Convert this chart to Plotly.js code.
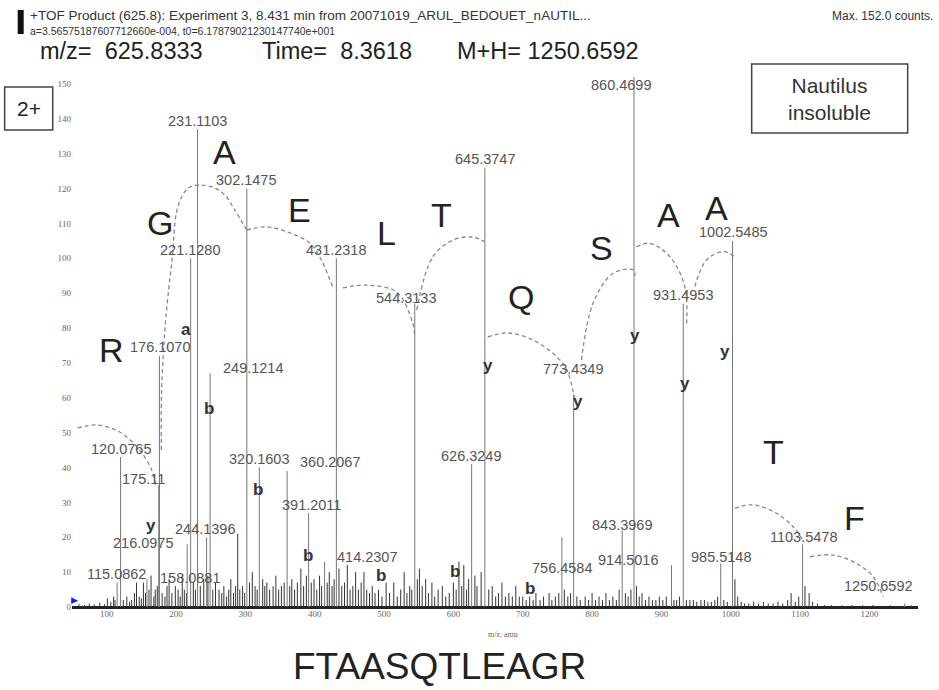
<!DOCTYPE html>
<html>
<head>
<meta charset="utf-8">
<script src="https://cdn.plot.ly/plotly-3.0.1.min.js"></script>
<style>html,body{margin:0;padding:0;background:#fff;}#chart{width:939px;height:690px;}</style>
</head>
<body>
<div id="chart"></div>
<script>
// ---- labelled fragment peaks (m/z, counts) ----
const peakMz = [115.0862,120.0765,158.0881,175.11,176.107,216.0975,221.128,231.1103,244.1396,249.1214,302.1475,320.1603,360.2067,391.2011,414.2307,431.2318,544.3133,626.3249,645.3747,756.4584,773.4349,843.3969,860.4699,914.5016,931.4953,985.5148,1002.5485,1103.5478,1250.6592];
const peakH  = [7,43,8,35,72,18,100,137,20,67,120,40,39,27,13,100,87,41,126,20,61,22,152,12,87,12.5,105,18,1];
const peakText = ["115.0862","120.0765","158.0881","175.11","176.1070","216.0975","221.1280","231.1103","244.1396","249.1214","302.1475","320.1603","360.2067","391.2011","414.2307","431.2318","544.3133","626.3249","645.3747","756.4584","773.4349","843.3969","860.4699","914.5016","931.4953","985.5148","1002.5485","1103.5478","1250.6592"];
// where each number label sits (m/z, counts)
const labelMz = [114.4,120.3,219.7,153.5,176.6,153.1,219.7,230.5,242.5,311,301.5,319.3,421.6,395,475.7,431.3,532.3,626,645.2,757,772.6,843.6,841.4,851.9,931.3,986.6,1004.4,1104.4,1213.5];
const labelCnt = [9.4,45.3,8.4,36.7,74.6,18.4,102.4,139.4,22.4,68.5,122.5,42.4,41.6,29.3,14.4,102.4,88.5,43.3,128.4,11.1,68.2,23.5,149.7,13.5,89.5,14.2,107.5,20.2,6];

// ---- unlabelled small peaks (m/z, counts) ----
const noiseMz = [60,68,75,82,90,97,101,106,110,112,124,129,133,136,140,143,147,150,153,156,161,164,168,170,173,180,184,187,190,194,199,203,206,209,212,215,225,228,235,240,246,253,257,262,266,269,273,276,279,283,286,289,292,296,299,306,310,314,317,325,328,331,335,340,344,348,352,356,364,367,371,375,380,384,388,395,399,403,407,410,418,421,425,428,435,439,443,447,451,455,459,463,467,471,475,479,483,487,492,497,503,508,514,519,524,529,533,537,540,548,551,555,560,564,569,573,578,584,589,594,600,604,608,612,615,619,622,631,634,640,651,656,661,665,670,675,680,685,690,695,700,705,710,715,719,725,730,738,742,747,752,760,765,769,778,783,790,795,800,805,810,815,820,825,830,835,839,848,852,856,864,868,872,877,882,887,892,897,902,907,918,922,926,936,941,946,951,957,962,967,972,977,981,990,995,1006,1010,1015,1020,1026,1033,1040,1047,1054,1061,1068,1075,1082,1087,1093,1098,1107,1113,1118,1125,1135,1145,1160,1175,1190,1205,1230,1260];
const noiseH  = [0.8,0.6,1,0.7,1.2,0.8,2.5,1.5,3,2,2,3,1.5,2,4,7,3,2.5,7,4,5,9,3,5,6,4,3,6,8,4,6,5,3,9,5,4,7,5,6,8,9,5,7,5,4,6,3,5,8,4,6,21,5,6,4,7,10,6,5,8,6,7,5,6,9,5,6,7,6,8,5,7,11,6,9,7,8,5,9,6,7,10,6,8,11,6,7,12,5,6,10,5,7,10,5,4,6,4,5,3,7,4,7,3,5,10,4,6,5,8,11,6,8,4,7,3,5,6,3,4,7,5,13,6,12,5,8,9,6,10,5,6,3,4,7,3,4,3,6,3,3,2,3,2,4,2,3,4,2,3,4,5,3,4,3,2,3,2,4,2,3,2,4,2,3,2,5,4,3,5,6,3,4,2,3,2,2,3,2,3,2,2,3,2,2,2,1.5,2,2,1.5,1.5,2,3,2,1.5,8,3,1.5,1,1,1.5,1,1.5,1,1,1.5,1,2,4,1.5,3,6,4,1.5,1,0.6,0.6,0.5,0.6,0.5,0.6,0.5,0.5];

// ---- ion type letters ----
const ionText = ["a","b","b","y","b","b","b","b","y","y","y","y","y"];
const ionMz   = [214,247.6,318.2,164.4,390.4,496.2,602,710.1,650,779.8,861.6,933.7,991.4];
const ionCnt  = [79.5,57,33.6,23.5,14.9,9,10.1,5.4,69.4,58.9,78,64.2,73.2];

// ---- residue letters ----
const resText = ["R","G","A","E","L","T","Q","S","A","A","T","F"];
const resMz   = [106.7,176.4,270.2,378.4,503.4,582.7,698.1,813.5,909.6,979.4,1061,1178.9];
const resCnt  = [73.7,110,130.6,113.9,107.2,112.4,89,102.9,112.4,114.3,44.5,25.4];

// ---- dashed sequence arcs (m/z, counts) ----
const arcs = [
  {mz:[58.2,85.6,118.7,147.6,164.9,170.7], c:[51.3,52.2,50.2,45,39.3,35]},
  {mz:[178.9,178.9,181.2,185.1,190.9,194.8,200.5,209.6,219.7,234.1,252.9,270.2,284.6,301.9], c:[45,59.4,70.8,82.3,93.8,100.4,113,118.2,120.4,121,120.4,118.2,113.9,108.1]},
  {mz:[301.9,330.8,364,392.8,407.2,426], c:[108.1,109,107.3,104.4,100.4,91.8]},
  {mz:[440.4,475,518.3,541.4,544.2], c:[91.5,92.3,90.3,81.4,77.4]},
  {mz:[547.1,570.2,599,627.9,645.2], c:[85.2,100.4,105.2,106.1,104.7]},
  {mz:[649.6,677,714.5,749.2,763.6,775.1], c:[77.4,78.6,76.6,71.7,68,59.4]},
  {mz:[784.7,801.4,830.2,859.1,862], c:[70.8,87.1,95.7,96.7,95]},
  {mz:[864,883.2,912,933.7,936.1], c:[103.3,104.3,100.5,91.9,80.4]},
  {mz:[948.1,964.9,988.9,1005.8], c:[91.9,99.5,101.9,100.5]},
  {mz:[1005.8,1032.2,1065.9,1089.9,1104.3], c:[28.3,29.3,26.9,23,19.2]},
  {mz:[1114,1147.6,1181.3,1205.3,1219.7], c:[14.4,14.9,12.5,8.7,3]}
];

const xTicks = [100,200,300,400,500,600,700,800,900,1000,1100,1200];
const yTicks = [0,10,20,30,40,50,60,70,80,90,100,110,120,130,140,150];

function sticks(mz, h){
  const x=[], y=[];
  for(let i=0;i<mz.length;i++){ x.push(mz[i],mz[i],null); y.push(0,h[i],null); }
  return {x,y};
}
const n = sticks(noiseMz, noiseH);
const p = sticks(peakMz, peakH);

const traces = [
  {type:'scatter', mode:'lines', x:n.x, y:n.y, line:{color:'#333', width:1}, hoverinfo:'skip', showlegend:false},
  {type:'scatter', mode:'lines', x:p.x, y:p.y, line:{color:'#777', width:1}, hoverinfo:'skip', showlegend:false}
];
arcs.forEach(a => traces.push({type:'scatter', mode:'lines', x:a.mz, y:a.c, line:{color:'#888', width:1.3, dash:'4px,3px', shape:'spline'}, hoverinfo:'skip', showlegend:false}));

const SANS = 'Liberation Sans, Arial, sans-serif';
const ann = [];
peakText.forEach((t,i)=>ann.push({x:labelMz[i], y:labelCnt[i], xref:'x', yref:'y', xanchor:'center', yanchor:'middle', text:t, showarrow:false, font:{family:SANS, size:14.5, color:'#555'}}));
ionText.forEach((t,i)=>ann.push({x:ionMz[i], y:ionCnt[i], xref:'x', yref:'y', xanchor:'center', yanchor:'middle', text:'<b>'+t+'</b>', showarrow:false, font:{family:SANS, size:17, color:'#333'}}));
resText.forEach((t,i)=>ann.push({x:resMz[i], y:resCnt[i], xref:'x', yref:'y', xanchor:'center', yanchor:'middle', text:t, showarrow:false, font:{family:SANS, size:34, color:'#222'}}));

function paperText(x, y, text, font, xanchor){
  ann.push({x:x, y:y, xref:'paper', yref:'paper', xanchor:xanchor||'center', yanchor:'middle', showarrow:false, text:text, font:font});
}
// header and boxes (paper coordinates)
paperText(-0.0524, 1.1151, '+TOF Product (625.8): Experiment 3, 8.431 min from 20071019_ARUL_BEDOUET_nAUTIL...', {family:SANS, size:13.5, color:'#333'}, 'left');
paperText(-0.0524, 1.0868, 'a=3.56575187607712660e-004, t0=6.17879021230147740e+001', {family:SANS, size:10.5, color:'#333'}, 'left');
paperText(1.0198, 1.1151, 'Max. 152.0 counts.', {family:SANS, size:12, color:'#333'}, 'right');
paperText(-0.0406, 1.0491, 'm/z=  625.8333', {family:SANS, size:23.5, color:'#222'}, 'left');
paperText(0.2219, 1.0491, 'Time=  8.3618', {family:SANS, size:23.5, color:'#222'}, 'left');
paperText(0.4524, 1.0491, 'M+H= 1250.6592', {family:SANS, size:23.5, color:'#222'}, 'left');
paperText(-0.0512, 0.9406, '2+', {family:SANS, size:21, color:'#222'});
paperText(0.8957, 0.9594, 'Nautilus<br>insoluble', {family:SANS, size:21, color:'#333'});
paperText(0.509, -0.0528, 'm/z, amu', {family:'Liberation Serif, serif', size:8, color:'#666'});
paperText(0.4346, -0.1132, 'FTAASQTLEAGR', {family:SANS, size:37, color:'#222'});
paperText(0.0032, 0.0132, '▶', {family:'DejaVu Sans', size:9, color:'#1a1aff'});

const shapes = [
  {type:'rect', xref:'paper', yref:'paper', x0:-0.0642, x1:-0.0571, y0:1.0811, y1:1.1264, fillcolor:'#111', line:{width:0}},
  {type:'rect', xref:'paper', yref:'paper', x0:-0.0796, x1:-0.0228, y0:0.900, y1:0.9811, line:{color:'#444', width:1.5}},
  {type:'rect', xref:'paper', yref:'paper', x0:0.8034, x1:0.9878, y0:0.8943, y1:1.0245, line:{color:'#444', width:1.5}}
];

const layout = {
  width:939, height:690,
  margin:{l:72, r:21, t:77, b:83},
  paper_bgcolor:'#fff', plot_bgcolor:'#fff',
  showlegend:false,
  xaxis:{range:[50,1270], tickvals:xTicks, ticks:'', showgrid:false, zeroline:false, showline:false,
         tickfont:{family:'Liberation Serif, serif', size:9, color:'#666'}},
  yaxis:{range:[0,152], tickvals:yTicks, ticks:'', showgrid:false, zeroline:true, zerolinecolor:'#222', zerolinewidth:3, showline:false,
         tickfont:{family:'Liberation Serif, serif', size:9, color:'#666'}},
  annotations:ann,
  shapes:shapes
};
Plotly.newPlot('chart', traces, layout, {displayModeBar:false, staticPlot:true});
</script>
</body>
</html>
